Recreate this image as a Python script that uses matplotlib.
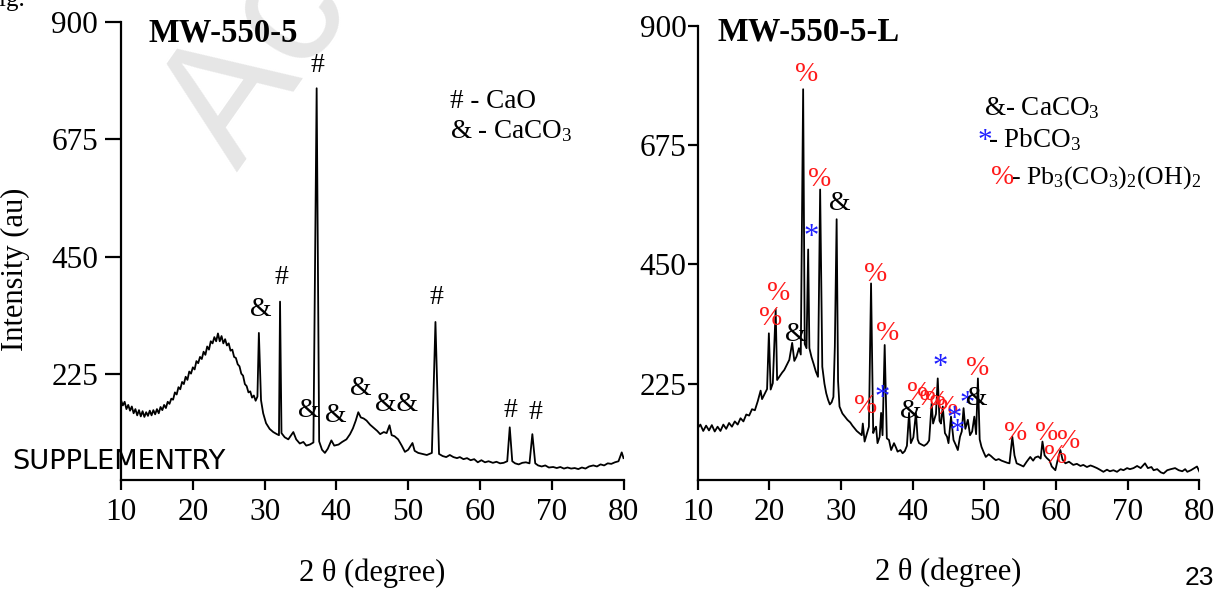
"""
XRD patterns of MW-550-5 and MW-550-5-L (supplementary figure), redrawn
from values read off the published picture.
"""
import matplotlib

matplotlib.use("Agg")
import matplotlib.pyplot as plt  # noqa: E402

plt.rcParams["font.family"] = ["Liberation Serif", "DejaVu Serif"]
plt.rcParams["mathtext.fontset"] = "custom"
plt.rcParams["mathtext.rm"] = "Liberation Serif"
plt.rcParams["mathtext.it"] = "Liberation Serif:italic"

# ---- MW-550-5 pattern: 2theta (deg) and intensity (au) ----
two_theta_a = [
    10.0, 10.25, 10.5, 10.75, 11.0, 11.25, 11.5, 11.75, 12.0, 12.25, 12.5,
    12.75, 13.0, 13.25, 13.5, 13.75, 14.0, 14.25, 14.5, 14.75, 15.0, 15.25,
    15.5, 15.75, 16.0, 16.25, 16.5, 16.75, 17.0, 17.25, 17.5, 17.75, 18.0,
    18.25, 18.5, 18.75, 19.0, 19.25, 19.5, 19.75, 20.0, 20.25, 20.5, 20.75,
    21.0, 21.25, 21.5, 21.75, 22.0, 22.25, 22.5, 22.75, 23.0, 23.25, 23.5,
    23.75, 24.0, 24.25, 24.5, 24.75, 25.0, 25.25, 25.5, 25.75, 26.0, 26.25,
    26.5, 26.75, 27.0, 27.25, 27.5, 27.75, 28.0, 28.25, 28.5, 28.75, 29.0,
    29.2, 29.5, 29.8, 30.2, 30.7, 31.2,
    31.7, 32.0, 32.15, 32.35, 32.8, 33.3, 33.7, 34.0, 34.4, 34.9, 35.4, 35.8,
    36.3, 36.8, 37.25, 37.6, 38.0, 38.4, 38.8, 39.3, 39.7, 40.3, 40.8, 41.4,
    41.9, 42.3, 42.7, 43.05, 43.4, 43.8, 44.2, 44.7, 45.2, 45.7, 46.1, 46.6,
    47.0, 47.4, 47.7, 48.1, 48.6, 49.1, 49.55, 50.0, 50.6, 50.9, 51.4, 52.0,
    52.6, 53.3, 53.8, 54.3, 54.8, 55.3, 55.8, 56.3, 56.8, 57.2, 57.7, 58.2,
    58.7, 59.2, 59.7, 60.2, 60.7, 61.2, 61.8, 62.3, 62.8, 63.3, 63.8, 64.15,
    64.5, 64.9, 65.4, 65.9, 66.4, 66.9, 67.3, 67.7, 68.1, 68.6, 69.1, 69.6,
    70.2, 70.7, 71.2, 71.7, 72.2, 72.7, 73.2, 73.7, 74.2, 74.7, 75.2, 75.8,
    76.3, 76.8, 77.3, 77.8, 78.3, 78.8, 79.3, 79.75, 80.0,
]
counts_a = [
    175, 165, 172, 158, 166, 155, 163, 150, 158, 146, 156,
    144, 154, 143, 152, 145, 155, 146, 156, 148, 158, 150,
    162, 156, 166, 160, 172, 168, 178, 176, 190, 186, 200,
    196, 210, 206, 220, 214, 230, 226, 238, 234, 250, 246,
    258, 254, 268, 262, 278, 272, 288, 284, 296, 288, 303,
    288, 298, 284, 292, 280, 284, 270, 272, 258, 256, 244,
    240, 226, 222, 206, 202, 190, 192, 180, 184, 174, 182,
    304, 175, 150, 131, 120, 114,
    110, 108, 364, 112, 104, 100, 108, 114, 100, 92, 95, 88,
    90, 94, 773, 96, 80, 74, 82, 98, 88, 90, 95, 100,
    110, 121, 136, 152, 142, 140, 136, 128, 122, 116, 110, 114,
    112, 127, 108, 106, 100, 88, 76, 80, 93, 78, 74, 72,
    70, 74, 325, 72, 68, 66, 70, 66, 64, 66, 62, 64,
    60, 62, 56, 60, 56, 58, 55, 57, 54, 55, 58, 123,
    58, 54, 52, 55, 56, 54, 110, 54, 50, 48, 50, 46,
    47, 45, 47, 44, 46, 44, 45, 43, 46, 44, 48, 50,
    48, 52, 50, 54, 53, 56, 58, 75, 64,
]

# ---- MW-550-5-L pattern ----
two_theta_b = [
    10.0, 10.4, 10.8, 11.2, 11.6, 12.0, 12.4, 12.8, 13.2, 13.6, 14.0, 14.4,
    14.8, 15.2, 15.6, 16.0, 16.4, 16.8, 17.2, 17.6, 18.0, 18.4, 18.8, 19.0,
    19.4, 19.7, 19.95, 20.2, 20.5, 20.9, 21.1, 21.5, 21.8, 22.1, 22.5, 22.8,
    23.2, 23.5, 23.8, 24.15, 24.4, 24.73, 24.95, 25.2, 25.43, 25.6, 25.9, 26.2,
    26.5, 26.8, 27.1, 27.4, 27.7, 27.95, 28.2, 28.45, 28.7, 28.95, 29.15, 29.4,
    29.6, 29.8, 30.2, 30.6, 30.9, 31.3, 31.6, 31.9, 32.2, 32.55, 32.9, 33.05,
    33.3, 33.6, 33.9, 34.2, 34.5, 34.7, 34.9, 35.1, 35.4, 35.6, 35.8, 36.1,
    36.4, 36.7, 37.0, 37.4, 37.7, 37.9, 38.3, 38.6, 38.9, 39.2, 39.5, 39.75,
    40.1, 40.46, 40.7, 40.9, 41.3, 41.6, 42.0, 42.3, 42.65, 42.85, 43.0, 43.25,
    43.5, 43.75, 43.95, 44.2, 44.5, 44.8, 45.0, 45.35, 45.7, 46.0, 46.3, 46.6,
    46.85, 47.1, 47.35, 47.7, 48.0, 48.3, 48.6, 48.85, 49.1, 49.35, 49.6, 49.9,
    50.2, 50.6, 50.9, 51.3, 51.6, 52.0, 52.4, 52.8, 53.2, 53.5, 53.9, 54.2,
    54.5, 55.0, 55.45, 55.9, 56.4, 56.8, 57.1, 57.5, 57.85, 58.1, 58.4, 58.7,
    59.1, 59.4, 59.9, 60.2, 60.6, 60.9, 61.3, 61.8, 62.4, 62.9, 63.4, 63.8,
    64.3, 64.8, 65.2, 65.7, 66.1, 66.6, 67.1, 67.5, 68.0, 68.5, 69.0, 69.4,
    69.9, 70.3, 70.8, 71.3, 71.8, 72.4, 72.8, 73.3, 73.6, 74.1, 74.6, 75.0,
    75.5, 76.0, 76.6, 77.1, 77.6, 78.0, 78.3, 78.8, 79.3, 79.65, 80.0,
]
counts_b = [
    141, 148, 136, 146, 137, 147, 135, 144, 136, 148, 140, 151,
    144, 154, 148, 160, 154, 167, 165, 177, 175, 192, 212, 196,
    207, 215, 320, 214, 226, 365, 232, 240, 246, 251, 262, 270,
    302, 268, 276, 292, 280, 780, 300, 292, 478, 292, 275, 262,
    248, 238, 591, 257, 225, 207, 195, 186, 190, 200, 295, 535,
    230, 182, 169, 162, 157, 152, 146, 141, 136, 132, 128, 150,
    116, 130, 144, 414, 132, 140, 144, 113, 125, 170, 128, 298,
    122, 119, 100, 113, 104, 97, 100, 94, 98, 108, 170, 113,
    124, 170, 120, 113, 110, 108, 112, 118, 188, 150, 157, 168,
    235, 155, 150, 182, 132, 125, 113, 163, 119, 110, 100, 125,
    135, 179, 140, 157, 128, 135, 163, 130, 235, 120, 106, 96,
    87, 92, 89, 84, 81, 83, 80, 78, 76, 75, 125, 90,
    75, 72, 69, 78, 87, 80, 86, 88, 84, 116, 90, 85,
    80, 69, 62, 80, 100, 82, 75, 78, 72, 74, 70, 72,
    68, 71, 69, 66, 63, 59, 63, 60, 62, 59, 64, 62,
    66, 64, 66, 70, 66, 75, 66, 68, 62, 64, 58, 56,
    62, 64, 66, 62, 60, 64, 59, 62, 66, 69, 59,
]

# ---- phase markers: symbol, 2theta, height ----
marks_a = [
    ("&", 29.5, 348), ("#", 32.3, 411), ("#", 37.3, 816), ("&", 36.2, 156),
    ("&", 39.9, 146), ("&", 43.4, 198), ("&&", 48.4, 166), ("#", 53.9, 371),
    ("#", 64.2, 156), ("#", 67.7, 152),
]
marks_b = [
    ("%", 25.2, 807), ("%", 27.0, 609), ("&", 29.9, 565), ("*", 25.8, 501),
    ("%", 34.8, 430), ("%", 21.3, 395), ("%", 20.2, 348), ("&", 23.75, 317),
    ("%", 33.4, 182), ("%", 36.5, 319), ("*", 35.8, 197), ("&", 39.75, 172),
    ("%", 40.8, 207), ("%", 42.2, 198), ("%", 43.3, 190), ("%", 44.8, 180),
    ("*", 43.8, 256), ("*", 45.8, 158), ("*", 46.25, 134), ("*", 47.55, 185),
    ("&", 48.9, 197), ("%", 49.05, 254), ("%", 54.3, 132), ("%", 58.7, 132),
    ("%", 59.9, 87), ("%", 61.7, 116),
]
MARK_COLOURS = {"&": "black", "&&": "black", "#": "black", "*": "#1f1fff", "%": "#ff1a1a"}

Y_TICKS = [225, 450, 675, 900]
X_TICKS = [10, 20, 30, 40, 50, 60, 70, 80]
TICK_SIZE = 22.5


def style_axis(ax, ylim, ytick_len, ytick_pad):
    ax.set_facecolor("none")
    ax.set_xlim(10, 80)
    ax.set_ylim(*ylim)
    ax.set_xticks(X_TICKS)
    ax.set_yticks(Y_TICKS)
    for side in ("top", "right"):
        ax.spines[side].set_visible(False)
    for side in ("left", "bottom"):
        ax.spines[side].set_linewidth(1.6)
    ax.tick_params(axis="x", direction="out", length=7, width=1.6,
                   labelsize=TICK_SIZE, pad=6)
    ax.tick_params(axis="y", direction="out", length=ytick_len, width=1.6,
                   labelsize=TICK_SIZE, pad=ytick_pad)
    ax.set_xlabel("2 θ (degree)", fontsize=22)
    ax.xaxis.set_label_coords(0.5, -0.203)
    ax.xaxis.label.set_verticalalignment("center")


def add_marks(ax, marks):
    for sym, x, y in marks:
        size = 22 if sym == "*" else 20
        ax.text(x, y, sym, ha="center", va="center", fontsize=size,
                color=MARK_COLOURS[sym])


fig = plt.figure(figsize=(12.19, 5.89), dpi=100)

# watermark and page furniture sit behind the (transparent) axes
fig.text(238 / 1219, 1 - 172 / 589, "Accepted Manuscript", fontsize=125,
         rotation=55, rotation_mode="anchor", color="#e6e6e6",
         family="Liberation Sans", ha="left", va="baseline", zorder=-1)
fig.text(-0.012, 1.0, "Fig.", fontsize=18, ha="left", va="center")
fig.text(1185 / 1219, 1 - 566 / 589, "23", fontsize=19,
         family="Liberation Sans", ha="left", va="top")

ax_a = fig.add_axes([0.0993, 0.185, 0.4122, 0.7776])
ax_b = fig.add_axes([0.5722, 0.185, 0.4118, 0.7716])

# left panel
ax_a.plot(two_theta_a, counts_a, color="black", lw=1.3)
style_axis(ax_a, (22, 900), 11.5, 5)
ax_a.set_ylabel("Intensity (au)", fontsize=22)
ax_a.yaxis.set_label_coords(-0.181, 0.46)
ax_a.text(0.055, 0.975, "MW-550-5", transform=ax_a.transAxes, fontsize=23.5,
          fontweight="bold", ha="left", va="center")
ax_a.text(0.654, 0.8275, "# - CaO", transform=ax_a.transAxes, fontsize=19.5,
          ha="left", va="center")
ax_a.text(0.654, 0.762, "& - CaCO$_3$", transform=ax_a.transAxes, fontsize=19.5,
          ha="left", va="center")
add_marks(ax_a, marks_a)
fig.text(12 / 1219, 1 - 462 / 589, "SUPPLEMENTRY", fontsize=19.6,
         family="DejaVu Sans", ha="left", va="center")

# right panel
ax_b.plot(two_theta_b, counts_b, color="black", lw=1.3)
style_axis(ax_b, (43.5, 900), 7, 1)
ax_b.text(0.04, 0.985, "MW-550-5-L", transform=ax_b.transAxes, fontsize=23.5,
          fontweight="bold", ha="left", va="center")
ax_b.text(0.57, 0.818, "&- CaCO$_3$", transform=ax_b.transAxes, fontsize=19.5,
          ha="left", va="center")
ax_b.text(0.557, 0.746, "*", transform=ax_b.transAxes, fontsize=21,
          color=MARK_COLOURS["*"], ha="left", va="center")
ax_b.text(0.578, 0.750, "- PbCO$_3$", transform=ax_b.transAxes, fontsize=19.5,
          ha="left", va="center")
ax_b.text(0.585, 0.666, "%", transform=ax_b.transAxes, fontsize=20,
          color=MARK_COLOURS["%"], ha="left", va="center")
ax_b.text(0.624, 0.666, "- Pb$_3$(CO$_3$)$_2$(OH)$_2$", transform=ax_b.transAxes,
          fontsize=18.6, ha="left", va="center")
add_marks(ax_b, marks_b)

fig.savefig("out.png", dpi=100)
